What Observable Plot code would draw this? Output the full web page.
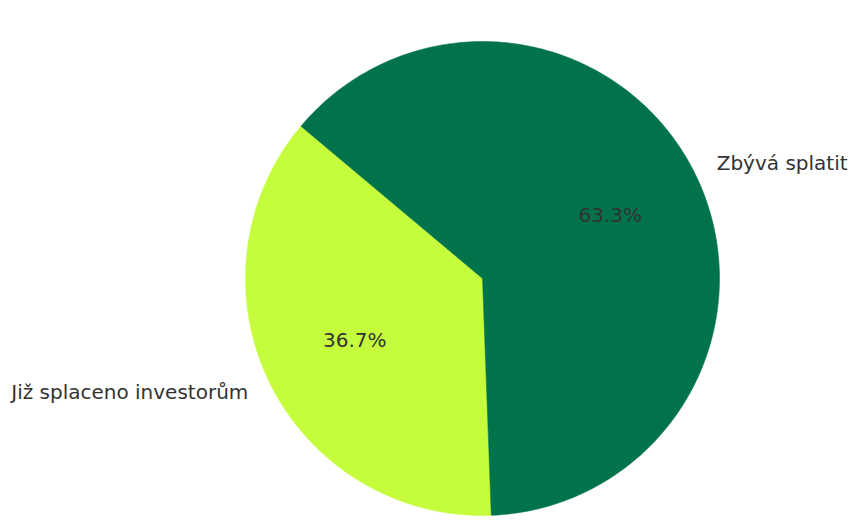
<!DOCTYPE html>
<html>
<head>
<meta charset="utf-8">
<script src="https://cdn.jsdelivr.net/npm/d3@7"></script>
<script src="https://cdn.jsdelivr.net/npm/@observablehq/plot@0.6"></script>
<style>
  html, body { margin: 0; padding: 0; background: #fff; }
  #chart svg { display: block; }
</style>
</head>
<body>
<div id="chart"></div>
<script>
const categories = ["Již splaceno investorům", "Zbývá splatit"];
const values = [36.7, 63.3];
const pctLabels = ["36.7%", "63.3%"];
const colors = ["#c5fc3c", "#00734a"];
const startAngle = 140; // degrees, counter-clockwise from 3 o'clock

const W = 857, H = 520;
const cx = 482, cy = 278, R = 237;

const total = d3.sum(values);
let a0 = startAngle;
const slices = categories.map((c, i) => {
  const span = values[i] / total * 360;
  const s = {cat: c, i, a0, a1: a0 + span, mid: a0 + span / 2};
  a0 += span;
  return s;
});

const rad = d => d * Math.PI / 180;
const polyPts = [];
for (const s of slices) {
  polyPts.push({cat: s.cat, x: 0, y: 0});
  const n = 240;
  for (let k = 0; k <= n; k++) {
    const a = rad(s.a0 + (s.a1 - s.a0) * k / n);
    polyPts.push({cat: s.cat, x: Math.cos(a), y: Math.sin(a)});
  }
  polyPts.push({cat: s.cat, x: 0, y: 0});
}

const labels = slices.map(s => {
  const a = rad(s.mid);
  return {cat: s.cat, x: 1.1 * Math.cos(a), y: 1.1 * Math.sin(a), anchor: Math.cos(a) < 0 ? "end" : "start"};
});
const pcts = slices.map(s => {
  const a = rad(s.mid);
  return {t: pctLabels[s.i], x: 0.6 * Math.cos(a), y: 0.6 * Math.sin(a)};
});

const chart = Plot.plot({
  width: W, height: H,
  margin: 0,
  style: {fontFamily: "DejaVu Sans", background: "#fff"},
  x: {domain: [-cx / R, (W - cx) / R], axis: null},
  y: {domain: [-(H - cy) / R, cy / R], axis: null},
  color: {domain: categories, range: colors},
  marks: [
    Plot.line(polyPts, {x: "x", y: "y", z: "cat", fill: "cat", stroke: "cat", strokeWidth: 0.5, curve: "linear"}),
    Plot.text(labels.filter(d => d.anchor === "end"), {x: "x", y: "y", text: "cat", textAnchor: "end", fontSize: 20, fill: "#333"}),
    Plot.text(labels.filter(d => d.anchor === "start"), {x: "x", y: "y", text: "cat", textAnchor: "start", fontSize: 20, fill: "#333"}),
    Plot.text(pcts, {x: "x", y: "y", text: "t", fontSize: 20, fill: "#333"})
  ]
});
document.getElementById("chart").appendChild(chart);
</script>
</body>
</html>
